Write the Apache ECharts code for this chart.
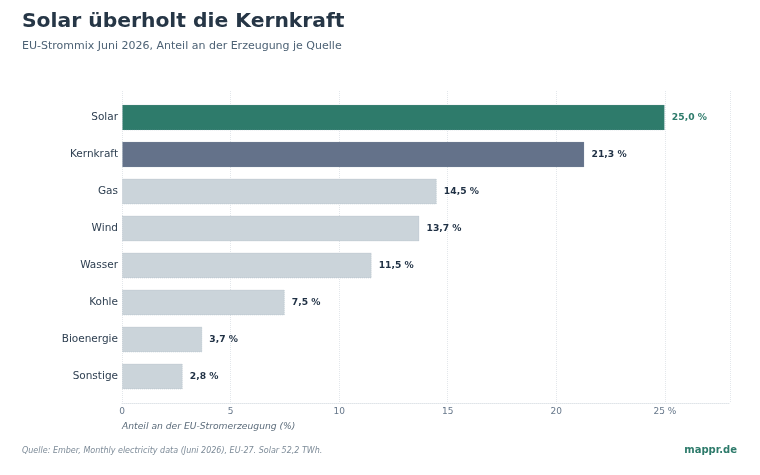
<!DOCTYPE html>
<html>
<head>
<meta charset="utf-8">
<script src="https://cdn.jsdelivr.net/npm/echarts@6/dist/echarts.min.js"></script>
<style>
  html, body { margin: 0; padding: 0; background: #fff; }
  #chart { width: 760px; height: 475px; }
</style>
</head>
<body>
<div id="chart"></div>
<script>
var categories = ['Solar', 'Kernkraft', 'Gas', 'Wind', 'Wasser', 'Kohle', 'Bioenergie', 'Sonstige'];
var shares = [25.0, 21.3, 14.5, 13.7, 11.5, 7.5, 3.7, 2.8];
var tickValues = [0, 5, 10, 15, 20, 25];

var barColors = ['#2e7b6b', '#64728a', '#cbd4da', '#cbd4da', '#cbd4da', '#cbd4da', '#cbd4da', '#cbd4da'];
var font = 'DejaVu Sans';

var myChart = echarts.init(document.getElementById('chart'));

var option = {
    animation: false,
    backgroundColor: '#ffffff',
    title: [{
        text: 'Solar überholt die Kernkraft',
        left: 22,
        top: 12,
        padding: 0,
        textStyle: {fontFamily: font, fontSize: 20.3, fontWeight: 'bold', color: '#263646'}
    }, {
        text: 'EU-Strommix Juni 2026, Anteil an der Erzeugung je Quelle',
        left: 22,
        top: 41,
        padding: 0,
        textStyle: {fontFamily: font, fontSize: 11, fontWeight: 'normal', color: '#4d6275'}
    }, {
        text: 'Quelle: Ember, Monthly electricity data (Juni 2026), EU-27. Solar 52,2 TWh.',
        left: 22,
        top: 447,
        padding: 0,
        textStyle: {fontFamily: font, fontSize: 8, fontStyle: 'italic', fontWeight: 'normal', color: '#7d8b98'}
    }, {
        text: 'mappr.de',
        right: 23,
        top: 445,
        padding: 0,
        textStyle: {fontFamily: font, fontSize: 10, fontWeight: 'bold', color: '#2e7b6b'}
    }],
    grid: [
        // grid for gridlines + axis
        {left: 122, right: 30, top: 91, bottom: 72},
        // grid for bars
        {left: 122, right: 30, top: 99, bottom: 80}
    ],
    xAxis: [{
        gridIndex: 0,
        type: 'value',
        min: 0,
        max: 28,
        interval: 5,
        name: 'Anteil an der EU-Stromerzeugung (%)',
        nameLocation: 'start',
        nameGap: 0,
        nameTextStyle: {
            fontFamily: font, fontSize: 9.2, fontStyle: 'italic', color: '#5b6b7a',
            align: 'left', verticalAlign: 'top', padding: [19, 0, 0, 0]
        },
        axisLine: {show: true, lineStyle: {color: '#dfe4e8', type: 'dotted', width: 1}},
        axisTick: {show: false},
        axisLabel: {
            fontFamily: font, fontSize: 9, color: '#66778a', margin: 4,
            showMaxLabel: false,
            formatter: function (v) {
                if (tickValues.indexOf(v) < 0) return '';
                return v === 25 ? '25 %' : String(v);
            }
        },
        splitLine: {show: true, lineStyle: {color: '#e3e7eb', type: 'dotted', width: 1}}
    }, {
        gridIndex: 1,
        type: 'value',
        min: 0,
        max: 28,
        show: false
    }],
    yAxis: [{
        gridIndex: 0,
        type: 'category',
        data: categories,
        show: false
    }, {
        gridIndex: 1,
        type: 'category',
        data: categories,
        inverse: true,
        axisLine: {show: false},
        axisTick: {show: false},
        axisLabel: {fontFamily: font, fontSize: 10.5, color: '#2d3e50', margin: 4}
    }],
    series: [{
        type: 'bar',
        xAxisIndex: 1,
        yAxisIndex: 1,
        barWidth: 26,
        data: shares.map(function (v, i) {
            return {
                value: v,
                itemStyle: {
                    color: barColors[i],
                    borderColor: 'rgba(150,165,180,0.35)',
                    borderType: 'dotted',
                    borderWidth: 1
                },
                label: {color: i === 0 ? '#2e7b6b' : '#1f3044'}
            };
        }),
        label: {
            show: true,
            position: 'right',
            distance: 7,
            fontFamily: font,
            fontSize: 9.2,
            fontWeight: 'bold',
            formatter: function (p) {
                return p.value.toFixed(1).replace('.', ',') + ' %';
            }
        }
    }]
};

myChart.setOption(option);
</script>
</body>
</html>
